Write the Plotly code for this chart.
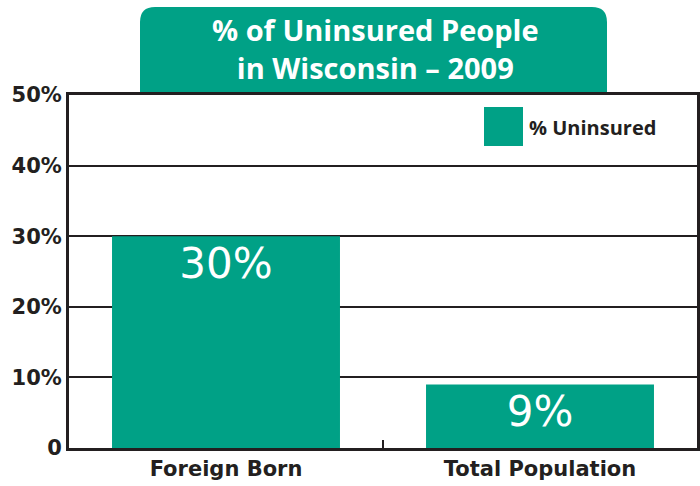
import plotly.graph_objects as go

categories = ["Foreign Born", "Total Population"]
values = [30, 9]
value_labels = ["30%", "9%"]
tick_vals = [0, 10, 20, 30, 40, 50]
tick_text = ["0", "10%", "20%", "30%", "40%", "50%"]
series_name = "% Uninsured"
title_lines = ["% of Uninsured People", "in Wisconsin – 2009"]

GREEN = "#00A186"
DARK = "#231f20"

fig = go.Figure()
fig.add_trace(go.Bar(
    x=categories, y=values, text=value_labels, name=series_name,
    marker=dict(color=GREEN, line=dict(width=0)),
    width=0.726,
    textposition="inside", insidetextanchor="end",
    textfont=dict(family="DejaVu Sans", size=42, color="white"),
    constraintext="none", textangle=0,
    showlegend=False,
))

W, H = 700, 486
ml, mr, mt, mb = 69, 3, 95, 38
pw, ph = W - ml - mr, H - mt - mb

def px(x):
    return (x - ml) / pw

def py(y):
    return 1 - (y - mt) / ph

# title box with rounded top corners
x0, x1, y0, y1 = px(140), px(607), py(95), py(7)
rx, ry = 15 / pw, 15 / ph
path = (f"M {x0},{y0} L {x0},{y1 - ry} Q {x0},{y1} {x0 + rx},{y1} "
        f"L {x1 - rx},{y1} Q {x1},{y1} {x1},{y1 - ry} L {x1},{y0} Z")
fig.add_shape(type="path", path=path, xref="paper", yref="paper",
              fillcolor=GREEN, line=dict(width=0), layer="below")

fig.add_annotation(
    text="<b>" + "<br>".join(title_lines) + "</b>",
    xref="paper", yref="paper", x=px(375), y=py(49),
    xanchor="center", yanchor="middle", showarrow=False,
    font=dict(family="Open Sans", size=29, color="white"),
)

# legend
fig.add_shape(type="rect", xref="paper", yref="paper",
              x0=px(484), x1=px(523), y0=py(146), y1=py(107),
              fillcolor=GREEN, line=dict(width=0))
fig.add_annotation(
    text="<b>" + series_name + "</b>", xref="paper", yref="paper",
    x=px(527), y=py(127), xanchor="left", yanchor="middle", showarrow=False,
    font=dict(family="Open Sans", size=20, color=DARK),
)

fig.update_layout(
    width=W, height=H,
    margin=dict(l=ml, r=mr, t=mt, b=mb, pad=0, autoexpand=False),
    plot_bgcolor="white", paper_bgcolor="white",
    bargap=0.274,
    showlegend=False,
)
fig.update_xaxes(
    showline=True, linecolor=DARK, linewidth=3, mirror=True,
    ticks="inside", tickson="boundaries", ticklen=8, tickwidth=2, tickcolor=DARK,
    tickfont=dict(family="DejaVu Sans", size=21, color=DARK),
    showgrid=False,
    tickvals=categories, ticktext=["<b>%s</b>" % c for c in categories],
    automargin=False,
)
fig.update_yaxes(
    range=[0, 50], tickvals=tick_vals, ticktext=["<b>%s</b>" % t for t in tick_text],
    showline=True, linecolor=DARK, linewidth=3, mirror=True,
    showgrid=True, gridcolor=DARK, gridwidth=2,
    tickfont=dict(family="DejaVu Sans", size=21, color=DARK),
    ticks="", zeroline=False, automargin=False,
)

fig.write_html("out.html", config={"displayModeBar": False},
               post_script="document.body.style.margin='0';")
